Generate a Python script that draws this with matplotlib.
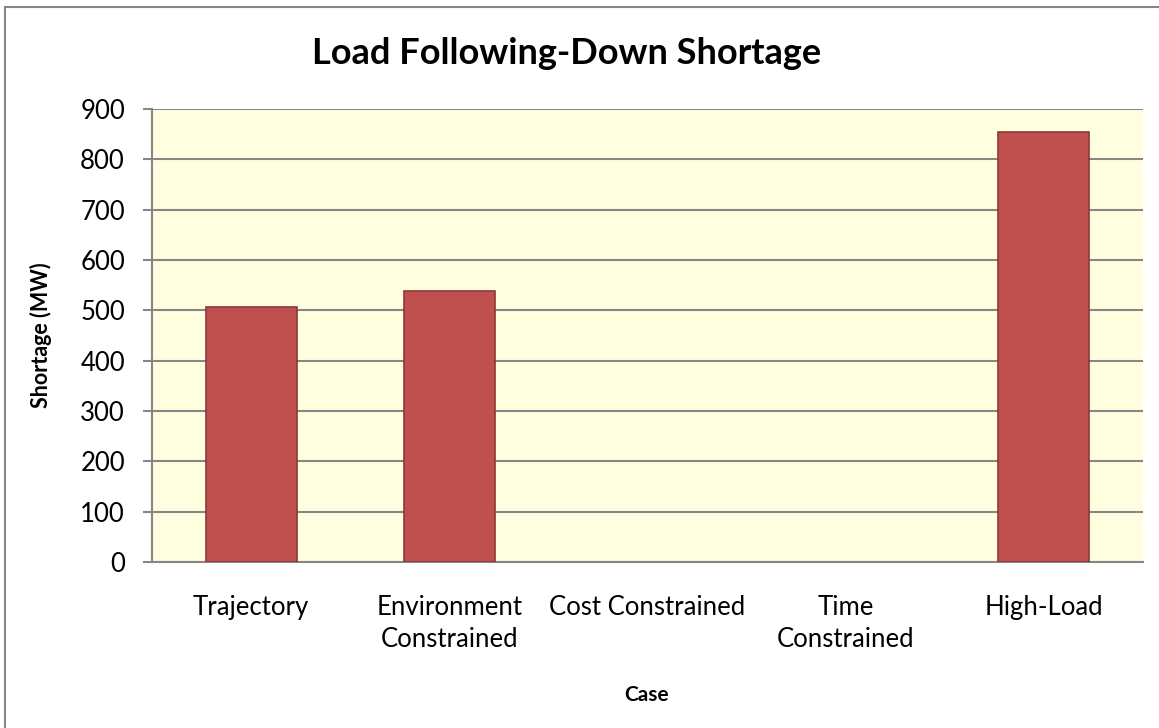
import matplotlib.pyplot as plt
import numpy as np

plt.rcParams['font.family'] = ['Lato', 'DejaVu Sans']

# data
cases = ['Trajectory', 'Environment\nConstrained', 'Cost Constrained', 'Time\nConstrained', 'High-Load']
shortage = [507, 539, 0, 0, 854]
yticks = np.arange(0, 901, 100)

fig = plt.figure(figsize=(11.59, 7.28), dpi=100)
ax = fig.add_axes([152 / 1159, 1 - 562 / 728, 991 / 1159, 453 / 728])

x = np.arange(len(cases))
edges = ['#8c3836' if v > 0 else 'none' for v in shortage]
ax.bar(x, shortage, width=0.46, color='#c0504d', edgecolor=edges, linewidth=1.2, zorder=3)

ax.set_facecolor('#ffffe0')
ax.set_xlim(-0.5, len(cases) - 0.5)
ax.set_ylim(0, 900)
ax.set_yticks(yticks)
ax.set_xticks(x)
ax.set_xticklabels(cases, fontsize=18.5, linespacing=1.35)
ax.tick_params(axis='y', labelsize=18.5, length=6.5, width=1.5, color='#868686', pad=13)
ax.tick_params(axis='x', length=0, pad=24)
ax.grid(axis='y', color='#868686', linewidth=1.5, zorder=1)

for s in ['top', 'right']:
    ax.spines[s].set_visible(False)
for s in ['left', 'bottom']:
    ax.spines[s].set_color('#868686')
    ax.spines[s].set_linewidth(1.5)

ax.set_ylabel('Shortage (MW)', fontsize=15.5, fontweight='bold', labelpad=20)
fig.text(647 / 1159, 1 - 695 / 728, 'Case', fontsize=15, fontweight='bold',
         ha='center', va='center')
fig.text(567 / 1159, 1 - 54 / 728, 'Load Following-Down Shortage', fontsize=26,
         fontweight='bold', ha='center', va='center')

# outer border (right and bottom edges fall outside the image)
fig.patches.append(plt.Rectangle((5 / 1159, -0.05), 1.1, 1.05 - 7 / 728,
                                 transform=fig.transFigure, fill=False,
                                 edgecolor='#868686', linewidth=1.5))

fig.savefig('out.png', dpi=100)
